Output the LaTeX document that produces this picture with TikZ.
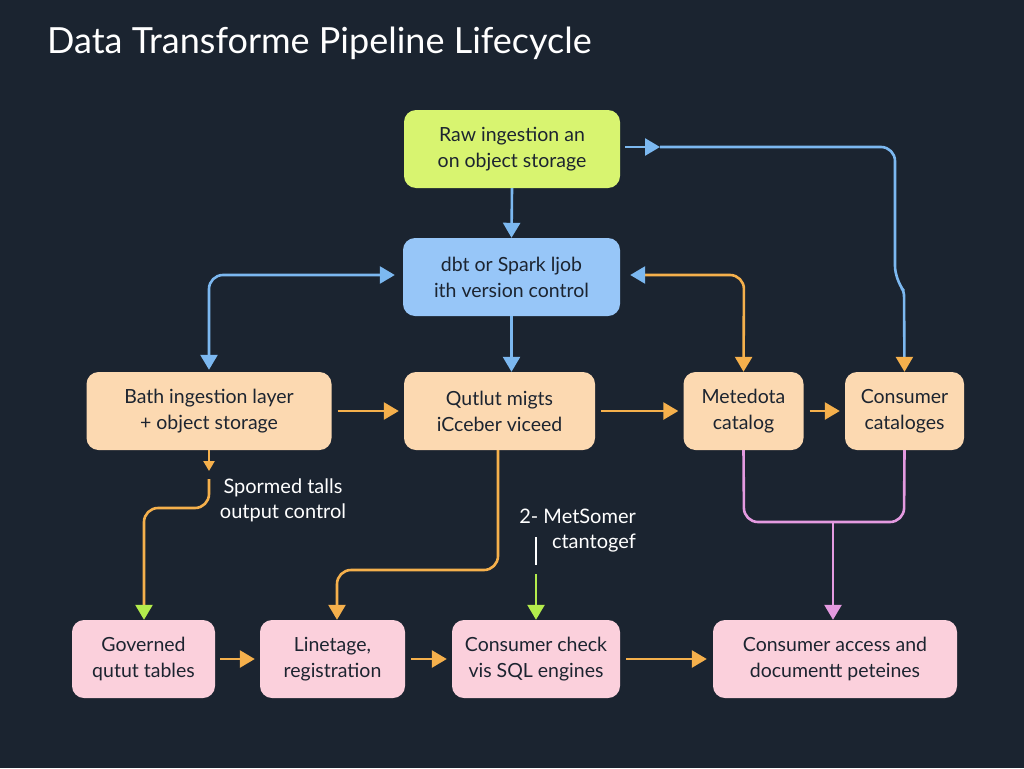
\documentclass[tikz,border=0pt]{standalone}
\usepackage{fontspec}
\setmainfont{Lato}
\usetikzlibrary{arrows.meta}
\definecolor{bg}{HTML}{1B2430}
\definecolor{lime}{HTML}{D8F470}
\definecolor{bluebox}{HTML}{97C6F8}
\definecolor{peach}{HTML}{FCD9B1}
\definecolor{pinkbox}{HTML}{FBD0DC}
\definecolor{bline}{HTML}{7CB8F0}
\definecolor{oline}{HTML}{F5B04C}
\definecolor{gline}{HTML}{B4EC4C}
\definecolor{pline}{HTML}{E49AE0}
\definecolor{tdark}{HTML}{1C2430}
\tikzset{
  box/.style={rounded corners=12pt, align=center, text=tdark, inner sep=0pt,
    font=\fontsize{19.5}{26}\selectfont},
  lbl/.style={text=white, font=\fontsize{20}{25}\selectfont, inner sep=0pt},
  conn/.style={line width=2.6pt, rounded corners=14pt},
  tipB/.style={-{Triangle[width=17pt,length=15pt,color=bline]}},
  tipO/.style={-{Triangle[width=17pt,length=15pt,color=oline]}},
  tipG/.style={-{Triangle[width=17pt,length=15pt,color=gline]}},
  tipP/.style={-{Triangle[width=17pt,length=15pt,color=pline]}},
  tipBB/.style={{Triangle[width=17pt,length=15pt,color=bline]}-{Triangle[width=17pt,length=15pt,color=bline]}},
  tipBO/.style={{Triangle[width=17pt,length=15pt,color=bline]}-{Triangle[width=17pt,length=15pt,color=oline]}},
}
\begin{document}
\begin{tikzpicture}[x=1pt,y=-1pt]
\fill[bg] (0,0) rectangle (1024,768);
\useasboundingbox (0,0) rectangle (1024,768);

\node[anchor=west, text=white, font=\fontsize{36}{40}\selectfont, inner sep=0pt] (title) at (47,43) {Data Transforme Pipeline Lifecycle};

% top boxes
\node[box, fill=lime, minimum width=216pt, minimum height=78pt] (raw) at (512,149) {Raw ingestion an\\on object storage};
\node[box, fill=bluebox, minimum width=217pt, minimum height=78pt] (dbt) at (511.5,277) {dbt or Spark ljob\\ith version control};

% middle row
\node[box, fill=peach, minimum width=245pt, minimum height=78pt] (bath) at (209,411) {Bath ingestion layer\\+ object storage};
\node[box, fill=peach, minimum width=191pt, minimum height=78pt] (qut) at (499.5,411) {Qutlut migts\\iCceber viceed};
\node[box, fill=peach, minimum width=120pt, minimum height=78pt] (meta) at (743.5,411) {Metedota\\catalog};
\node[box, fill=peach, minimum width=119pt, minimum height=78pt] (cons) at (904.5,411) {Consumer\\cataloges};

% bottom row
\node[box, fill=pinkbox, minimum width=143pt, minimum height=78pt] (gov) at (143.5,659) {Governed\\qutut tables};
\node[box, fill=pinkbox, minimum width=145pt, minimum height=78pt] (line) at (332.5,659) {Linetage,\\registration};
\node[box, fill=pinkbox, minimum width=168pt, minimum height=78pt] (check) at (536,659) {Consumer check\\vis SQL engines};
\node[box, fill=pinkbox, minimum width=244pt, minimum height=78pt] (acc) at (835,659) {Consumer access and\\documentt peteines};

% labels
\node[lbl, align=center] (l1) at (283,500) {Spormed talls\\output control};
\node[lbl, align=right, anchor=east] (l2) at (636,531) {2- MetSomer\\ctantogef};

% coordinates
\coordinate (rawmid) at (660,147);
\coordinate (bathtip) at (209,471);
\coordinate (bathgo) at (209,479);
\coordinate (tickA) at (536,537);
\coordinate (tickB) at (536,565);
\coordinate (gstart) at (536,574);
\coordinate (merge) at (833,522);

% connectors
\draw[conn, bline, tipB] (raw.south) -- (dbt.north);
\draw[conn, bline, tipB] (raw.east) ++(5,-2) -- (rawmid);
\draw[conn, bline, tipO] (rawmid) -- (895,147) -- (895,280) [rounded corners=4pt] -- (904,291) -- (cons.north);
\draw[conn, bline, tipBB] (bath.north) ++(0,-2) -- (209,275) -- ([xshift=-8pt]dbt.west |- 0,275);
\draw[conn, oline, tipBO] ([xshift=10pt]dbt.east |- 0,275) -- (744,275) -- (meta.north);
\draw[conn, bline, tipB] (dbt.south) -- (qut.north -| dbt.south);
\draw[conn, oline, tipO] ([xshift=6pt]bath.east) -- ([xshift=-5pt]qut.west);
\draw[conn, oline, tipO] ([xshift=6pt]qut.east) -- ([xshift=-5pt]meta.west);
\draw[conn, oline, tipO] ([xshift=6pt]meta.east) -- ([xshift=-5pt]cons.west);

\draw[conn, oline, -{Triangle[width=11pt,length=10pt,color=oline]}] (bath.south) -- (bathtip);
\draw[conn, oline, tipG] (bathgo) -- (209,508) -- (144,508) -- (gov.north -| 144,0);
\draw[conn, oline, tipO] (qut.south -| 498,0) -- (498,570) -- (337,570) -- (line.north -| 337,0);
\draw[line width=2pt, white] (tickA) -- (tickB);
\draw[conn, gline, tipG] (gstart) -- (check.north);

\draw[conn, pline] (meta.south) -- (744,522) -- (merge);
\draw[conn, pline] (cons.south) -- (904,522) -- (merge);
\draw[conn, pline, tipP] (merge) -- (acc.north -| merge);

\draw[conn, oline, tipO] ([xshift=5pt]gov.east) -- ([xshift=-5pt]line.west);
\draw[conn, oline, tipO] ([xshift=6pt]line.east) -- ([xshift=-5pt]check.west);
\draw[conn, oline, tipO] ([xshift=6pt]check.east) -- ([xshift=-6pt]acc.west);
\end{tikzpicture}
\end{document}
